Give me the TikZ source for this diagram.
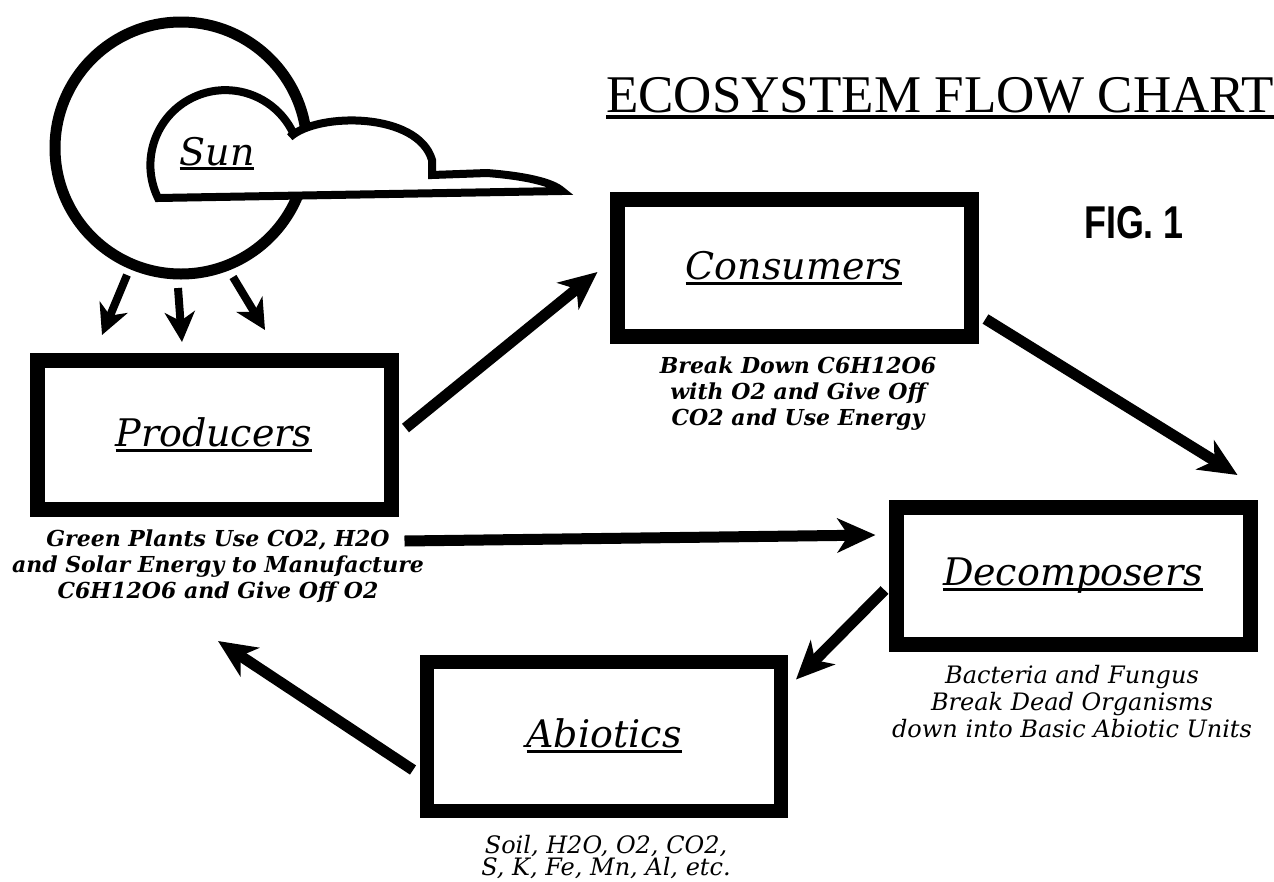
\documentclass[tikz,border=0pt]{standalone}
\usepackage{fontspec}
\newfontfamily\ecoserif{DejaVu Serif}
\newfontfamily\ecotitle{Liberation Serif}
\newfontfamily\ecosans{Liberation Sans}
\usepackage{graphicx}
\usepackage{tikz}
\usetikzlibrary{arrows.meta, calc}
\newsavebox{\ecobox}
\newcommand{\ecoline}[1]{\sbox{\ecobox}{#1}\rlap{\rule[-0.13em]{\wd\ecobox}{0.07em}}\usebox{\ecobox}}

\begin{document}
\begin{tikzpicture}[x=1pt, y=1pt,
  box/.style={draw, line width=15pt, minimum width=354pt, minimum height=149pt, inner sep=0pt,
    font=\ecoserif\itshape\fontsize{38}{40}\selectfont},
  flow/.style={line width=11pt, -{Stealth[length=38pt, width=34pt, inset=11pt]}},
  ray/.style={line width=8pt, -{Stealth[length=30pt, width=30pt, inset=9pt]}},
  descr/.style={align=center, font=\ecoserif\bfseries\itshape\fontsize{22}{26}\selectfont},
  lightdescr/.style={align=center, font=\ecoserif\itshape\fontsize{24}{27}\selectfont}]
  \useasboundingbox (0,0) rectangle (1274,-881);

  % Sun and cloud
  \draw[line width=11pt] (181,-148) circle[radius=126];
  \filldraw[fill=white, line width=8pt] (158,-198) arc[start angle=206, end angle=25, radius=75]
    -- (290,-137) .. controls (318,-112) and (418,-112) .. (432,-160) -- (432,-175)
    -- (487,-173) .. controls (525,-176) and (552,-182) .. (562,-191) -- cycle;
  \node[anchor=base, font=\ecoserif\itshape\fontsize{38}{40}\selectfont] (sun) at (217,-165) {\ecoline{Sun}};

  % Title
  \node[anchor=base west, inner sep=0pt, font=\ecotitle\fontsize{53}{54}\selectfont] (title) at (606,-112) {\ecoline{ECOSYSTEM FLOW CHART}};
  \node[font=\ecosans\bfseries\fontsize{46}{46}\selectfont] (fig) at (1134,-223) {\scalebox{0.78}[1]{FIG. 1}};

  % Boxes
  \node[box] (prod) at (214,-435) {\ecoline{Producers}};
  \node[box, minimum height=137pt] (cons) at (794,-268) {\ecoline{Consumers}};
  \node[box, minimum height=137pt] (deco) at (1073,-576) {\ecoline{Decomposers}};
  \node[box, line width=14pt] (abio) at (604,-736) {\ecoline{Abiotics}};

  % Descriptions
  \node[descr] (prodtxt) at (218,-566) {Green Plants Use CO2, H2O\\and Solar Energy to Manufacture\\C6H12O6 and Give Off O2};
  \node[descr] (constxt) at (798,-394) {Break Down C6H12O6\\with O2 and Give Off\\CO2 and Use Energy};
  \node[lightdescr] (decotxt) at (1072,-702) {Bacteria and Fungus\\Break Dead Organisms\\down into Basic Abiotic Units};
  \node[lightdescr, font=\ecoserif\itshape\fontsize{24}{22}\selectfont] (abiotxt) at (606,-857) {Soil, H2O, O2, CO2,\\S, K, Fe, Mn, Al, etc.};

  % Sun rays
  \coordinate (rayA) at (127,-275);
  \coordinate (rayB) at (178,-288);
  \coordinate (rayC) at (233,-277);
  \coordinate (hitA) at (102,-335);
  \coordinate (hitB) at (182,-342);
  \coordinate (hitC) at (265,-330);
  \draw[ray] (rayA) -- (hitA);
  \draw[ray] (rayB) -- (hitB);
  \draw[ray] (rayC) -- (hitC);

  % Flow arrows
  \draw[flow] ([shift={(7,7)}]prod.east) -- ([shift={(-12,-4)}]cons.west);
  \draw[flow] ([shift={(6,-24)}]prod.south east) -- ([shift={(-13,-35)}]deco.north west);
  \draw[flow] ([shift={(7,25)}]cons.south east) -- ([shift={(-20,25)}]deco.north east);
  \draw[flow] ([shift={(-4,-14)}]deco.west) -- ([shift={(8,-25)}]abio.north east);
  \draw[flow] ([shift={(-7,-34)}]abio.west) -- ([shift={(4,-124)}]prod.south);
\end{tikzpicture}
\end{document}
